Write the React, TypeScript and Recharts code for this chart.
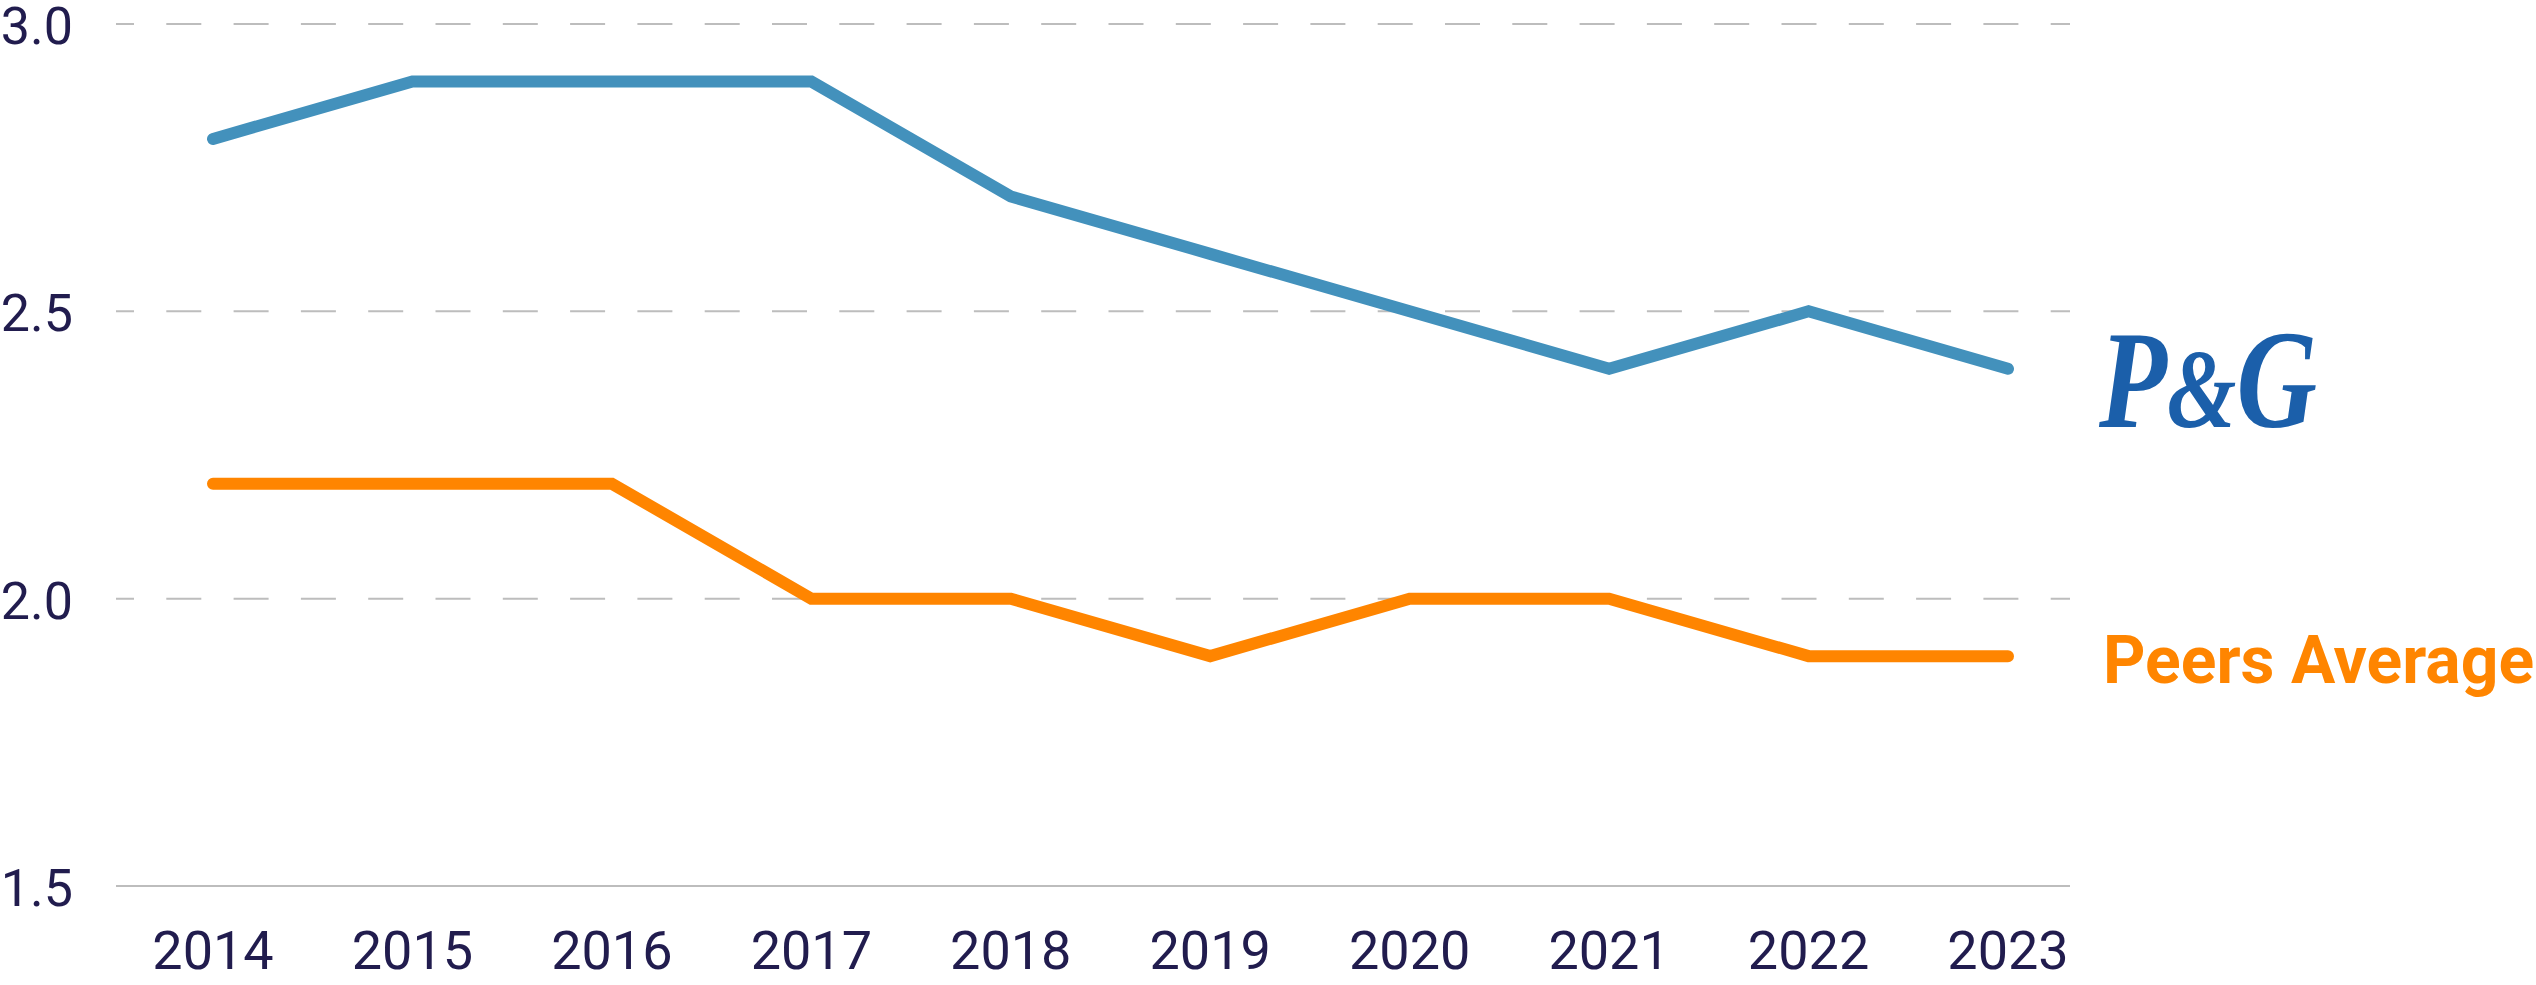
import React from 'react';
import { LineChart, Line, XAxis, YAxis, CartesianGrid } from 'recharts';

const years = ['2014', '2015', '2016', '2017', '2018', '2019', '2020', '2021', '2022', '2023'];
const pgValues = [2.8, 2.9, 2.9, 2.9, 2.7, 2.6, 2.5, 2.4, 2.5, 2.4];
const peersValues = [2.2, 2.2, 2.2, 2.0, 2.0, 1.9, 2.0, 2.0, 1.9, 1.9];
const yTicks = [1.5, 2.0, 2.5, 3.0];

const data = years.map((year, i) => ({ year, pg: pgValues[i], peers: peersValues[i] }));

const NAVY = '#211c4e';
const BLUE = '#4391bc';
const ORANGE = '#ff8500';
const LOGO_BLUE = '#1b5faa';
const GRID = '#bdbdbd';

const XTick = (props: any) => {
  const { x, y, payload } = props;
  return (
    <text x={x} y={y + 83} textAnchor="middle" fill={NAVY} fontSize={54} fontFamily="Roboto">
      {payload.value}
    </text>
  );
};

const YTick = (props: any) => {
  const { x, y, payload } = props;
  return (
    <text x={x - 43} y={y + 20} textAnchor="end" fill={NAVY} fontSize={52} fontFamily="Roboto">
      {Number(payload.value).toFixed(1)}
    </text>
  );
};

const last = years.length - 1;

// the P&G wordmark, squeezed to the logo's width
const pgLabel = (props: any) => {
  const { x, y, index } = props;
  if (index !== last) return <g />;
  return (
    <text
      x={x + 91}
      y={y + 58}
      fill={LOGO_BLUE}
      fontSize={140}
      fontFamily="Liberation Serif"
      fontWeight="bold"
      fontStyle="italic"
      textLength={218}
      lengthAdjust="spacingAndGlyphs"
    >
      P<tspan fontSize={112}>&amp;</tspan>G
    </text>
  );
};

const peersLabel = (props: any) => {
  const { x, y, index } = props;
  if (index !== last) return <g />;
  return (
    <text x={x + 95} y={y + 27} fill={ORANGE} fontSize={66} fontWeight="bold" fontFamily="Roboto">
      Peers Average
    </text>
  );
};

export default function App() {
  return (
    <div style={{ width: 2536, height: 985, background: '#fff' }}>
      <style>{'body{margin:0}'}</style>
      <LineChart width={2536} height={985} data={data} margin={{ top: 24, right: 466, left: 0, bottom: 0 }}>
        <CartesianGrid
          vertical={false}
          stroke={GRID}
          strokeWidth={2}
          strokeDasharray="35 32.3"
          strokeDashoffset={17}
        />
        <XAxis
          dataKey="year"
          height={99}
          padding={{ left: 97, right: 62 }}
          tick={<XTick />}
          tickLine={false}
          tickSize={0}
          tickMargin={0}
          stroke={GRID}
          strokeWidth={2}
          interval={0}
        />
        <YAxis
          width={116}
          domain={[1.5, 3]}
          ticks={yTicks}
          tick={<YTick />}
          axisLine={false}
          tickLine={false}
          tickSize={0}
          tickMargin={0}
        />
        <Line
          dataKey="pg"
          stroke={BLUE}
          strokeWidth={12}
          strokeLinecap="round"
          dot={false}
          activeDot={false}
          isAnimationActive={false}
          label={pgLabel}
        />
        <Line
          dataKey="peers"
          stroke={ORANGE}
          strokeWidth={12}
          strokeLinecap="round"
          dot={false}
          activeDot={false}
          isAnimationActive={false}
          label={peersLabel}
        />
      </LineChart>
    </div>
  );
}
